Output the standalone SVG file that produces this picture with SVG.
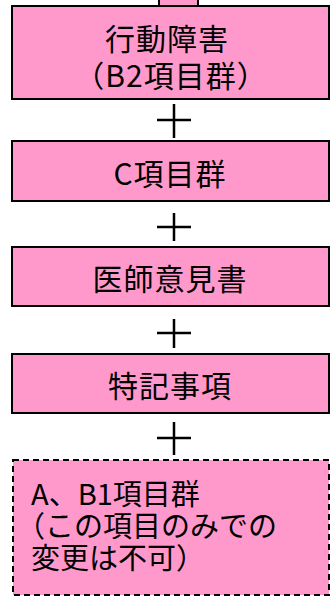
<svg xmlns="http://www.w3.org/2000/svg" width="336" height="598" viewBox="0 0 336 598">
<style>
.box{fill:#FF99CC;stroke:#000;stroke-width:2}
.dash{fill:#FF99CC;stroke:#000;stroke-width:2;stroke-dasharray:6,4}
.t{font-family:"Noto Sans CJK JP","Noto Sans",sans-serif;font-size:30px;fill:#000;letter-spacing:1px}
.s{font-size:29px;letter-spacing:0}
.c{text-anchor:middle}
.plus{stroke:#000;stroke-width:2.5;fill:none}
</style>
<rect width="336" height="598" fill="#fff"/>
<g id="top-stub"><rect class="box" x="159" y="-10" width="39" height="16"/></g>
<g id="node-b2"><rect class="box" x="12" y="6" width="317" height="93"/>
<text class="t c" x="167" y="50">行動障害</text>
<text class="t c" x="171" y="87">（B2項目群）</text></g>
<g id="node-c"><rect class="box" x="12" y="141" width="317" height="60"/>
<text class="t c" x="170" y="185">C項目群</text></g>
<g id="node-doc"><rect class="box" x="12" y="247" width="317" height="59"/>
<text class="t c" x="170" y="290">医師意見書</text></g>
<g id="node-note"><rect class="box" x="12" y="354" width="317" height="59"/>
<text class="t c" x="170" y="397">特記事項</text></g>
<g id="node-ab1"><rect class="dash" x="13" y="460" width="316" height="135"/>
<text class="t s" x="31" y="505" letter-spacing="1.5">A、B1項目群</text>
<text class="t s" x="16" y="537">（この項目のみでの</text>
<text class="t s" x="31" y="569">変更は不可）</text></g>
<g id="connectors">
<path class="plus" d="M157 120H191M174 104V138"/>
<path class="plus" d="M157 227H191M174 213V241"/>
<path class="plus" d="M157 333H191M174 319V348"/>
<path class="plus" d="M157 438H191M174 422V455"/>
</g>
</svg>
